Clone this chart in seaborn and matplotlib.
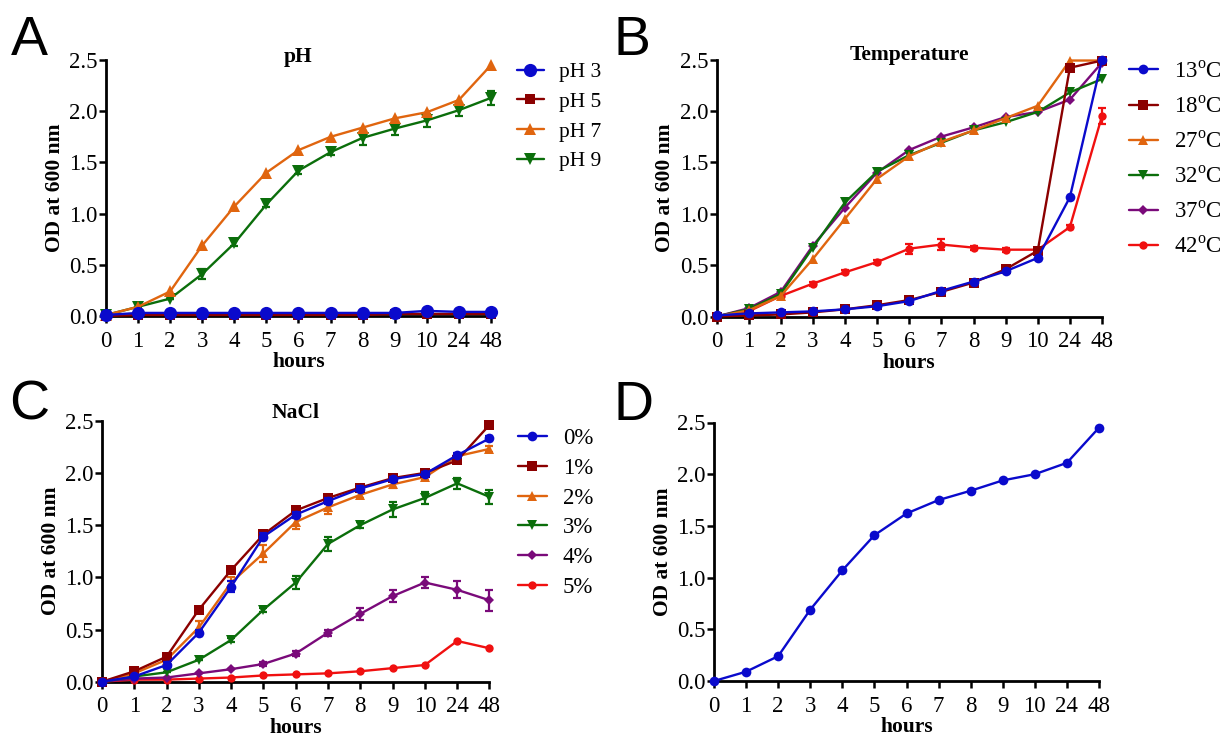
import matplotlib
matplotlib.use("Agg")
import matplotlib.pyplot as plt
import numpy as np
import pandas as pd
import seaborn as sns

# sampling times (categorical, evenly spaced on the axis)
hours = ["0", "1", "2", "3", "4", "5", "6", "7", "8", "9", "10", "24", "48"]

# panel A - pH
ph_labels = ["pH 3", "pH 5", "pH 7", "pH 9"]
ph3 = [0.01, 0.03, 0.03, 0.03, 0.03, 0.03, 0.03, 0.03, 0.03, 0.03, 0.05, 0.04, 0.04]
ph5 = [0.00, 0.01, 0.01, 0.01, 0.01, 0.01, 0.01, 0.01, 0.01, 0.02, 0.02, 0.02, 0.02]
ph7 = [0.01, 0.09, 0.24, 0.69, 1.07, 1.40, 1.62, 1.75, 1.84, 1.93, 1.99, 2.11, 2.45]
ph9 = [0.01, 0.09, 0.17, 0.41, 0.71, 1.09, 1.42, 1.60, 1.74, 1.83, 1.91, 2.01, 2.13]
ph9_err = [0, 0, 0, 0.05, 0.03, 0.03, 0.03, 0.03, 0.07, 0.06, 0.06, 0.06, 0.07]

# panel B - temperature
temp_labels = ["13$^{\\rm o}$C", "18$^{\\rm o}$C", "27$^{\\rm o}$C",
               "32$^{\\rm o}$C", "37$^{\\rm o}$C", "42$^{\\rm o}$C"]
t13 = [0.01, 0.03, 0.04, 0.05, 0.07, 0.10, 0.15, 0.25, 0.34, 0.44, 0.57, 1.16, 2.50]
t18 = [0.00, 0.01, 0.02, 0.04, 0.07, 0.11, 0.16, 0.24, 0.33, 0.46, 0.64, 2.42, 2.49]
t27 = [0.00, 0.06, 0.20, 0.56, 0.95, 1.34, 1.56, 1.70, 1.81, 1.93, 2.05, 2.49, 2.49]
t32 = [0.00, 0.07, 0.22, 0.67, 1.11, 1.41, 1.57, 1.69, 1.81, 1.89, 1.99, 2.18, 2.31]
t37 = [0.00, 0.08, 0.24, 0.69, 1.06, 1.40, 1.62, 1.75, 1.84, 1.94, 1.99, 2.11, 2.47]
t42 = [0.00, 0.05, 0.20, 0.32, 0.43, 0.53, 0.66, 0.70, 0.67, 0.65, 0.65, 0.87, 1.95]
t42_err = [0, 0, 0, 0.02, 0.02, 0.02, 0.05, 0.05, 0.02, 0.02, 0.02, 0.02, 0.08]

# panel C - NaCl
nacl_labels = ["0%", "1%", "2%", "3%", "4%", "5%"]
n0 = [0.00, 0.05, 0.16, 0.47, 0.91, 1.39, 1.60, 1.73, 1.85, 1.94, 1.99, 2.17, 2.33]
n1 = [0.00, 0.10, 0.24, 0.69, 1.07, 1.41, 1.64, 1.76, 1.86, 1.95, 2.00, 2.12, 2.46]
n2 = [0.00, 0.08, 0.21, 0.52, 0.95, 1.23, 1.53, 1.67, 1.79, 1.89, 1.96, 2.16, 2.23]
n3 = [0.00, 0.05, 0.09, 0.21, 0.40, 0.69, 0.95, 1.32, 1.50, 1.65, 1.76, 1.90, 1.77]
n4 = [0.00, 0.03, 0.04, 0.08, 0.12, 0.17, 0.27, 0.47, 0.65, 0.82, 0.95, 0.88, 0.78]
n5 = [0.00, 0.02, 0.02, 0.03, 0.04, 0.06, 0.07, 0.08, 0.10, 0.13, 0.16, 0.39, 0.32]
n0_err = [0, 0, 0.03, 0.03, 0.05, 0.03, 0.03, 0.03, 0.02, 0.02, 0.02, 0.02, 0.02]
n2_err = [0, 0, 0, 0.06, 0.05, 0.08, 0.07, 0.06, 0.03, 0.03, 0.03, 0.02, 0.03]
n3_err = [0, 0, 0, 0, 0.02, 0.02, 0.06, 0.07, 0.03, 0.07, 0.06, 0.05, 0.07]
n4_err = [0, 0, 0, 0, 0, 0.02, 0.02, 0.03, 0.06, 0.06, 0.05, 0.08, 0.10]

# panel D
d_vals = [0.00, 0.09, 0.24, 0.69, 1.07, 1.41, 1.62, 1.75, 1.84, 1.94, 2.00, 2.11, 2.45]

BLUE, MAROON, ORANGE = "#0a0acc", "#8b0000", "#e0650f"
GREEN, PURPLE, RED = "#0b6e0b", "#7a0a7a", "#f01010"

sns.set_theme(style="ticks")
plt.rcParams["font.family"] = ["Liberation Serif", "DejaVu Serif"]
plt.rcParams["mathtext.fontset"] = "custom"
plt.rcParams["mathtext.rm"] = "Liberation Serif"
for key in ["axes.edgecolor", "xtick.color", "ytick.color", "text.color", "axes.labelcolor"]:
    plt.rcParams[key] = "black"

W, H = 1222, 739
fig = plt.figure(figsize=(W / 100, H / 100), dpi=100)


def px_axes(left, right, bottom, top):
    return fig.add_axes([left / W, 1 - bottom / H, (right - left) / W, (bottom - top) / H])


def draw_panel(ax, series):
    pos = np.arange(len(hours))
    n = len(series)
    for i, (vals, label, color, marker, ms, err) in enumerate(series):
        df = pd.DataFrame({"pos": pos, "od": vals})
        z = 10 + (n - i)
        if err is not None:
            ax.errorbar(pos, vals, yerr=err, fmt="none", ecolor=color,
                        elinewidth=1.6, capsize=3, capthick=1.6, zorder=z, clip_on=False)
        sns.lineplot(data=df, x="pos", y="od", ax=ax, color=color, marker=marker,
                     markersize=ms, markeredgewidth=0, linewidth=1.7, label=label,
                     zorder=z, clip_on=False, legend=False)
    ax.set_xlim(0, len(hours) - 1)
    ax.set_ylim(0, 2.5)
    ax.set_xticks(pos)
    ax.set_xticklabels(hours)
    ax.set_yticks([0, 0.5, 1.0, 1.5, 2.0, 2.5])
    ax.set_yticklabels(["0.0", "0.5", "1.0", "1.5", "2.0", "2.5"])
    ax.tick_params(axis="both", labelsize=16.5, length=5, width=1.8)
    ax.tick_params(axis="x", pad=5.5)
    ax.tick_params(axis="y", pad=1)
    for s in ["left", "bottom"]:
        ax.spines[s].set_linewidth(2.0)
    sns.despine(ax=ax)
    ax.set_xlabel("hours", fontsize=15.5, fontweight="bold", labelpad=0.5)
    ax.set_ylabel("OD at 600 nm", fontsize=15.5, fontweight="bold", labelpad=3)


def add_title(text, x, y):
    fig.text(x / W, 1 - y / H, text, fontsize=15.5, fontweight="bold",
             ha="center", va="center")


def add_legend(ax, x, y, spacing, size):
    handles, labels = ax.get_legend_handles_labels()
    ax.legend(handles, labels, loc="upper left", bbox_to_anchor=(x / W, 1 - y / H),
              bbox_transform=fig.transFigure, frameon=False, fontsize=size,
              borderpad=0, borderaxespad=0, handlelength=1.25, handletextpad=0.7,
              labelspacing=spacing)


axA = px_axes(106, 491, 316, 60)
draw_panel(axA, [
    (ph3, ph_labels[0], BLUE, "o", 9.5, None),
    (ph5, ph_labels[1], MAROON, "s", 7, None),
    (ph7, ph_labels[2], ORANGE, "^", 8.5, None),
    (ph9, ph_labels[3], GREEN, "v", 8.5, ph9_err),
])
add_title("pH", 298.5, 57)
add_legend(axA, 517, 62, 0.45, 15.5)

axB = px_axes(716.5, 1102, 316.5, 59.5)
draw_panel(axB, [
    (t13, temp_labels[0], BLUE, "o", 7, None),
    (t18, temp_labels[1], MAROON, "s", 7, None),
    (t27, temp_labels[2], ORANGE, "^", 7, None),
    (t32, temp_labels[3], GREEN, "v", 7, None),
    (t37, temp_labels[4], PURPLE, "D", 5, None),
    (t42, temp_labels[5], RED, "o", 6, t42_err),
])
add_title("Temperature", 909, 55)
add_legend(axB, 1129, 61, 0.6, 16.5)

axC = px_axes(102, 489.5, 681.7, 420.7)
draw_panel(axC, [
    (n0, nacl_labels[0], BLUE, "o", 7, n0_err),
    (n1, nacl_labels[1], MAROON, "s", 7, None),
    (n2, nacl_labels[2], ORANGE, "^", 7, n2_err),
    (n3, nacl_labels[3], GREEN, "v", 7, n3_err),
    (n4, nacl_labels[4], PURPLE, "D", 5, n4_err),
    (n5, nacl_labels[5], RED, "o", 6, None),
])
add_title("NaCl", 296, 413)
add_legend(axC, 518, 428, 0.38, 16.5)

axD = px_axes(714, 1099, 681, 422.5)
draw_panel(axD, [(d_vals, None, BLUE, "o", 7, None)])

for letter, x, y in [("A", 11, 55), ("B", 614, 55), ("C", 9, 420), ("D", 613, 420)]:
    fig.text(x / W, 1 - y / H, letter, fontsize=40, family="Liberation Sans",
             ha="left", va="baseline")

fig.savefig("out.png", dpi=100, facecolor="white")
